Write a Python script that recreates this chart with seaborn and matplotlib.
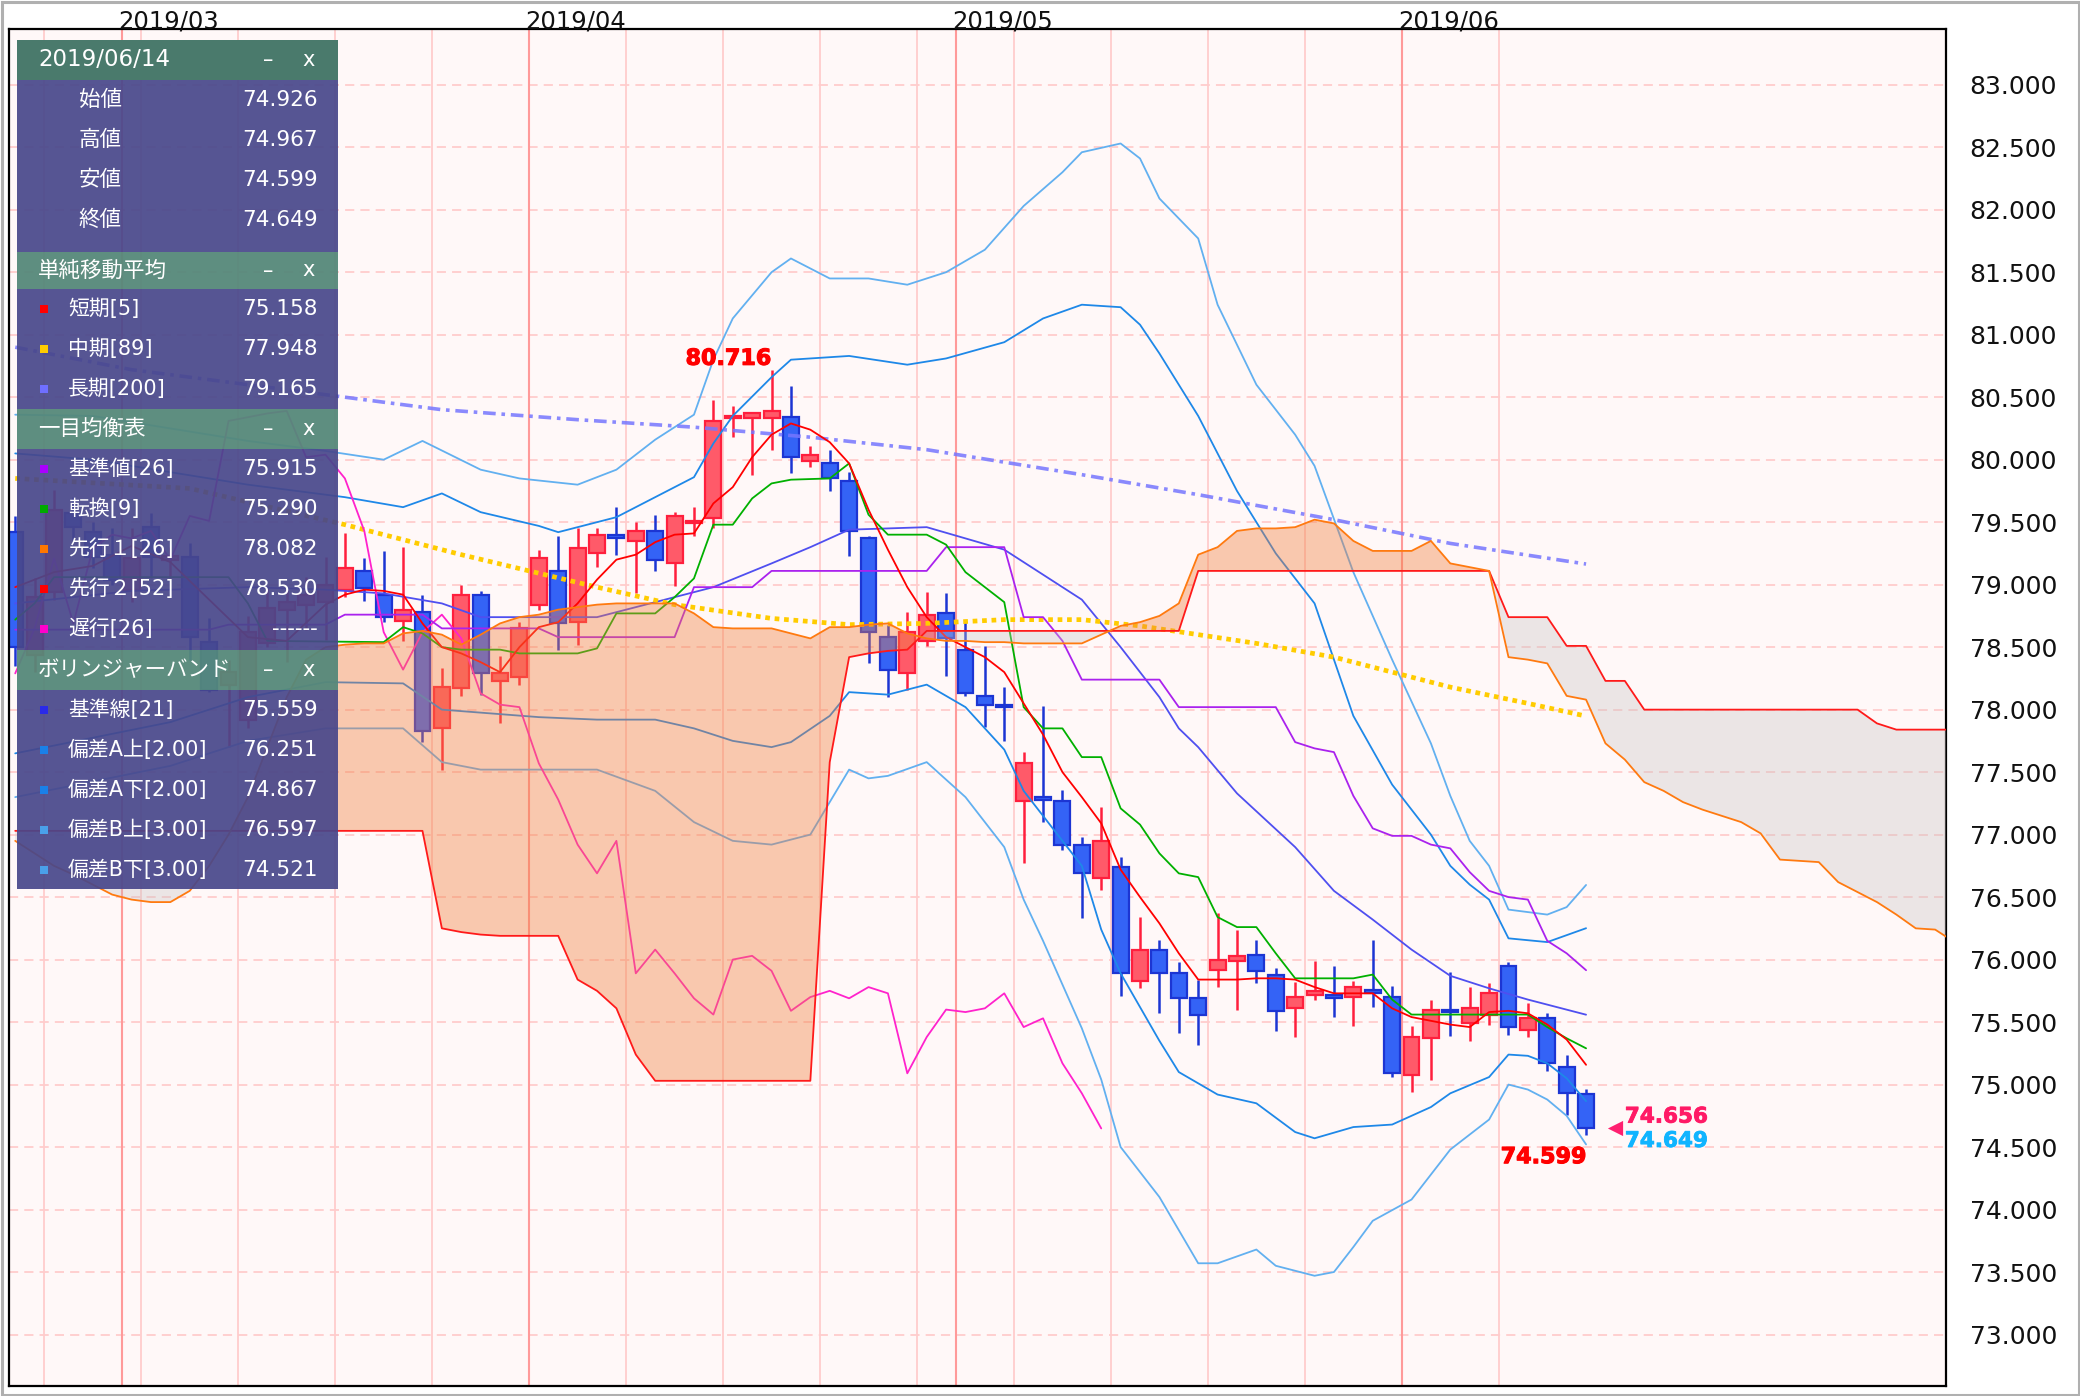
import numpy as np
import pandas as pd
import matplotlib
matplotlib.use("Agg")
import matplotlib.pyplot as plt
import matplotlib.patheffects as pe
import seaborn as sns
from matplotlib.patches import Rectangle
from matplotlib.ticker import FormatStrFormatter, MultipleLocator

# trading days on screen: 21 Feb .. 14 Jun 2019 (index 0 = Mon 25 Feb)
DATES = pd.bdate_range("2019-02-21", "2019-06-14")

OPEN = [79.42, 78.44, 78.94, 79.57, 79.42, 79.24, 78.96, 79.46, 79.20, 79.22, 78.54, 78.20, 77.92, 78.53,
        78.80, 78.84, 78.86, 78.96, 79.11, 78.92, 78.71, 78.78, 77.85, 78.17, 78.92, 78.23, 78.26, 78.84,
        79.11, 78.70, 79.25, 79.40, 79.35, 79.43, 79.17, 79.49, 79.53, 80.33, 80.33, 80.33, 80.34, 79.99,
        79.97, 79.83, 79.37, 78.58, 78.29, 78.55, 78.77, 78.48, 78.11, 78.03, 77.27, 77.29, 77.27, 76.92,
        76.65, 76.74, 75.83, 76.08, 75.89, 75.69, 75.92, 75.99, 76.04, 75.88, 75.61, 75.72, 75.72, 75.70,
        75.76, 75.70, 75.08, 75.37, 75.60, 75.49, 75.56, 75.95, 75.44, 75.53, 75.14, 74.926]
HIGH = [79.55, 79.05, 79.76, 79.70, 79.50, 79.45, 79.45, 79.57, 79.30, 79.33, 78.73, 78.40, 78.75, 78.99,
        78.96, 79.06, 79.22, 79.41, 79.21, 79.27, 79.30, 78.92, 78.33, 79.00, 78.95, 78.43, 78.70, 79.28,
        79.39, 79.45, 79.45, 79.62, 79.50, 79.56, 79.58, 79.62, 80.48, 80.43, 80.38, 80.716, 80.59, 80.11,
        80.08, 79.90, 79.39, 78.68, 78.78, 78.94, 78.93, 78.71, 78.51, 78.18, 77.66, 78.03, 77.36, 76.98,
        77.22, 76.82, 76.34, 76.16, 75.98, 75.84, 76.37, 76.24, 76.16, 75.93, 75.82, 75.99, 75.95, 75.83,
        76.16, 75.79, 75.47, 75.68, 75.90, 75.78, 75.81, 75.98, 75.65, 75.57, 75.24, 74.967]
LOW = [78.35, 78.30, 78.88, 79.36, 79.13, 79.00, 78.86, 79.05, 79.05, 78.40, 78.14, 77.70, 77.85, 78.50,
       78.38, 78.64, 78.56, 78.90, 78.87, 78.70, 78.55, 77.74, 77.52, 78.11, 78.12, 77.89, 78.20, 78.80,
       78.48, 78.52, 79.14, 79.24, 78.93, 79.11, 78.99, 79.39, 79.45, 80.18, 79.88, 80.08, 79.89, 79.94,
       79.75, 79.23, 78.37, 78.10, 78.16, 78.51, 78.27, 78.11, 77.86, 77.75, 76.77, 77.10, 76.88, 76.33,
       76.56, 75.71, 75.77, 75.57, 75.41, 75.32, 75.78, 75.60, 75.81, 75.43, 75.38, 75.68, 75.54, 75.47,
       75.62, 75.06, 74.94, 75.04, 75.39, 75.35, 75.48, 75.40, 75.38, 75.11, 74.76, 74.599]
CLOSE = [78.50, 78.90, 79.60, 79.46, 79.22, 79.04, 79.21, 79.22, 79.23, 78.58, 78.16, 78.30, 78.62, 78.81,
         78.86, 78.92, 79.00, 79.13, 78.97, 78.74, 78.80, 77.83, 78.18, 78.92, 78.29, 78.29, 78.65, 79.21,
         78.69, 79.29, 79.40, 79.37, 79.43, 79.20, 79.55, 79.51, 80.31, 80.34, 80.37, 80.39, 80.02, 80.04,
         79.85, 79.43, 78.62, 78.32, 78.62, 78.76, 78.57, 78.13, 78.04, 78.02, 77.57, 77.28, 76.92, 76.69,
         76.95, 75.89, 76.08, 75.89, 75.69, 75.56, 76.00, 76.03, 75.91, 75.59, 75.70, 75.75, 75.69, 75.78,
         75.73, 75.09, 75.38, 75.60, 75.58, 75.61, 75.73, 75.46, 75.53, 75.17, 74.93, 74.649]

# indicator lines at day-index knots
SMA5_X = [-2, 0, 2, 4, 6, 8, 10, 12, 14, 15, 16, 17, 18, 19, 20, 21, 22, 23, 24, 25, 26, 27, 28, 29, 30, 31,
          32, 33, 34, 35, 36, 37, 38, 39, 40, 41, 42, 43, 44, 45, 46, 47, 48, 49, 50, 51, 52, 53, 54, 55, 56,
          57, 58, 59, 60, 61, 62, 63, 64, 65, 66, 67, 68, 69, 70, 71, 72, 73, 74, 75, 76, 77, 78, 79]
SMA5_Y = [78.98, 79.10, 79.15, 79.31, 79.18, 78.88, 78.58, 78.55, 78.84, 78.92, 78.96, 78.95, 78.92, 78.69,
          78.50, 78.45, 78.38, 78.30, 78.50, 78.66, 78.70, 78.85, 79.04, 79.20, 79.24, 79.34, 79.40, 79.41,
          79.65, 79.78, 80.02, 80.20, 80.29, 80.24, 80.14, 79.97, 79.60, 79.28, 78.98, 78.74, 78.58, 78.50,
          78.42, 78.30, 78.05, 77.80, 77.50, 77.30, 77.09, 76.72, 76.50, 76.29, 76.05, 75.84, 75.84, 75.84,
          75.85, 75.85, 75.84, 75.78, 75.73, 75.73, 75.73, 75.61, 75.54, 75.51, 75.48, 75.46, 75.58, 75.59,
          75.57, 75.48, 75.36, 75.158]
SMA89_X = [-2, 7, 15, 21, 28, 32, 37, 41, 45, 49, 53, 56, 59, 62, 66, 69, 72, 76, 79]
SMA89_Y = [79.85, 79.77, 79.48, 79.24, 78.98, 78.84, 78.73, 78.68, 78.69, 78.72, 78.72, 78.67, 78.60, 78.53,
           78.42, 78.30, 78.18, 78.05, 77.948]
SMA200_X = [-2, 4, 9, 14, 20, 27, 33, 39, 45, 53, 59, 66, 72, 79]
SMA200_Y = [80.90, 80.72, 80.62, 80.52, 80.40, 80.32, 80.26, 80.18, 80.08, 79.88, 79.72, 79.52, 79.33, 79.165]

KIJUN_X = [-2, 8, 9, 14, 15, 19, 20, 25, 26, 32, 33, 36, 37, 45, 46, 49, 50, 51, 52, 53, 57, 58, 63, 64, 65,
           66, 67, 68, 69, 70, 71, 72, 73, 74, 75, 76, 77, 78, 79]
KIJUN_Y = [78.64, 78.64, 78.68, 78.68, 78.76, 78.76, 78.65, 78.65, 78.58, 78.58, 78.98, 78.98, 79.11, 79.11,
           79.30, 79.30, 78.74, 78.74, 78.55, 78.24, 78.24, 78.02, 78.02, 77.74, 77.69, 77.66, 77.31, 77.05,
           76.99, 76.99, 76.92, 76.89, 76.70, 76.55, 76.50, 76.48, 76.15, 76.05, 75.915]
TENKAN_X = [-2, -1, 0, 9, 10, 11, 17, 18, 19, 20, 21, 23, 24, 27, 28, 29, 31, 32, 33, 34, 35, 36, 37, 38, 40,
            41, 42, 43, 45, 46, 47, 48, 49, 50, 51, 52, 53, 54, 55, 56, 57, 58, 59, 60, 61, 62, 63, 64, 67,
            68, 69, 70, 76, 77, 78, 79]
TENKAN_Y = [78.72, 78.85, 79.06, 79.06, 78.85, 78.55, 78.54, 78.66, 78.61, 78.50, 78.48, 78.48, 78.45, 78.45,
            78.49, 78.77, 78.77, 78.90, 79.05, 79.48, 79.48, 79.69, 79.81, 79.84, 79.85, 79.97, 79.56, 79.40,
            79.40, 79.32, 79.10, 78.98, 78.86, 78.02, 77.85, 77.85, 77.62, 77.62, 77.21, 77.08, 76.85, 76.69,
            76.66, 76.34, 76.26, 76.26, 76.05, 75.85, 75.85, 75.88, 75.68, 75.56, 75.56, 75.46, 75.37, 75.29]
CHIKOU_Y = [78.29, 78.65, 79.21, 78.69, 79.29, 79.40, 79.37, 79.43, 79.20, 79.55, 79.51, 80.31, 80.34, 80.37,
            80.39, 80.02, 80.04, 79.85, 79.43, 78.62, 78.32, 78.62, 78.76, 78.57, 78.13, 78.04, 78.02, 77.57,
            77.28, 76.92, 76.69, 76.95, 75.89, 76.08, 75.89, 75.69, 75.56, 76.00, 76.03, 75.91, 75.59, 75.70,
            75.75, 75.69, 75.78, 75.73, 75.09, 75.38, 75.60, 75.58, 75.61, 75.73, 75.46, 75.53, 75.17, 74.93,
            74.649]

# leading spans, one value per day from index -2 to 98
SPAN_A = [76.95, 76.85, 76.75, 76.68, 76.60, 76.52, 76.48, 76.46, 76.46, 76.55, 76.75, 77.00, 77.30, 77.70,
          78.10, 78.40, 78.50, 78.52, 78.53, 78.53, 78.61, 78.63, 78.60, 78.52, 78.60, 78.69, 78.74, 78.76,
          78.80, 78.82, 78.84, 78.85, 78.85, 78.85, 78.85, 78.77, 78.66, 78.65, 78.65, 78.65, 78.61, 78.57,
          78.66, 78.66, 78.68, 78.69, 78.61, 78.57, 78.55, 78.55, 78.54, 78.54, 78.53, 78.53, 78.53, 78.53,
          78.60, 78.67, 78.70, 78.75, 78.85, 79.24, 79.30, 79.43, 79.45, 79.45, 79.46, 79.52, 79.49, 79.35,
          79.27, 79.27, 79.27, 79.35, 79.17, 79.14, 79.11, 78.42, 78.40, 78.37, 78.11, 78.08, 77.73, 77.60,
          77.42, 77.35, 77.26, 77.20, 77.15, 77.10, 77.01, 76.80, 76.79, 76.78, 76.62, 76.54, 76.46, 76.36,
          76.25, 76.24, 76.14]
SPAN_B = [77.03] * 22 + [76.25, 76.22, 76.20, 76.19, 76.19, 76.19, 76.19, 75.84, 75.75, 75.61, 75.24] + \
         [75.03] * 9 + [77.58, 78.42, 78.45, 78.47, 78.48] + [78.63] * 14 + [79.11] * 16 + \
         [78.74, 78.74, 78.74, 78.51, 78.51, 78.23, 78.23] + [78.00] * 12 + [77.89, 77.84, 77.84, 77.84, 77.84]

BB_MID_X = [-2, 4, 10, 14, 17, 20, 22, 28, 31, 34, 37, 39, 41, 45, 49, 53, 55, 57, 58, 59, 61, 64, 66, 68,
            70, 72, 74, 76, 79]
BB_MID_Y = [78.85, 78.95, 78.98, 78.96, 78.93, 78.85, 78.74, 78.74, 78.86, 78.98, 79.17, 79.30, 79.44, 79.46,
            79.28, 78.88, 78.50, 78.10, 77.85, 77.70, 77.33, 76.90, 76.55, 76.32, 76.08, 75.87, 75.77, 75.68,
            75.559]
BB_A_UP_X = [-2, 2, 6, 10, 14, 15, 18, 20, 22, 25, 26, 29, 31, 33, 34, 35, 37, 38, 41, 44, 46, 49, 51, 53,
             55, 56, 57, 59, 61, 63, 65, 67, 69, 71, 72, 73, 74, 75, 77, 79]
BB_A_UP_Y = [80.05, 80.00, 79.90, 79.80, 79.72, 79.70, 79.62, 79.73, 79.58, 79.47, 79.42, 79.54, 79.70, 79.86,
             80.13, 80.35, 80.66, 80.80, 80.83, 80.76, 80.81, 80.94, 81.13, 81.24, 81.22, 81.08, 80.85, 80.35,
             79.75, 79.25, 78.85, 77.95, 77.40, 77.00, 76.75, 76.60, 76.48, 76.17, 76.14, 76.251]
BB_A_DN_X = [-2, 6, 10, 14, 18, 20, 25, 28, 31, 33, 35, 37, 38, 40, 41, 43, 45, 47, 49, 50, 51, 53, 54, 55,
             57, 58, 60, 62, 64, 65, 67, 69, 71, 72, 74, 75, 76, 77, 78, 79]
BB_A_DN_Y = [77.65, 77.90, 78.10, 78.22, 78.21, 78.00, 77.94, 77.92, 77.92, 77.85, 77.75, 77.70, 77.74, 77.95,
             78.14, 78.12, 78.20, 78.02, 77.68, 77.35, 77.15, 76.75, 76.24, 75.89, 75.35, 75.10, 74.92, 74.85,
             74.62, 74.57, 74.66, 74.68, 74.82, 74.93, 75.06, 75.24, 75.23, 75.17, 75.05, 74.867]
BB_B_UP_X = [-2, 2, 6, 10, 14, 17, 19, 22, 24, 27, 29, 31, 33, 34, 35, 37, 38, 40, 42, 44, 46, 48, 50, 52,
             53, 55, 56, 57, 59, 60, 62, 63, 64, 65, 67, 69, 71, 72, 73, 74, 75, 77, 78, 79]
BB_B_UP_Y = [80.36, 80.35, 80.25, 80.15, 80.07, 80.00, 80.15, 79.92, 79.85, 79.80, 79.92, 80.16, 80.36, 80.80,
             81.13, 81.50, 81.61, 81.45, 81.45, 81.40, 81.50, 81.68, 82.03, 82.30, 82.46, 82.53, 82.41, 82.09,
             81.77, 81.24, 80.60, 80.40, 80.20, 79.95, 79.10, 78.40, 77.73, 77.31, 76.95, 76.75, 76.40, 76.36,
             76.42, 76.597]
BB_B_DN_X = [-2, 6, 10, 14, 18, 20, 22, 28, 31, 33, 35, 37, 39, 41, 42, 43, 45, 47, 49, 50, 51, 52, 53, 54,
             55, 57, 59, 60, 62, 63, 65, 66, 67, 68, 70, 72, 74, 75, 76, 77, 78, 79]
BB_B_DN_Y = [77.30, 77.55, 77.75, 77.85, 77.85, 77.58, 77.52, 77.52, 77.35, 77.10, 76.95, 76.92, 77.00, 77.52,
             77.45, 77.47, 77.58, 77.30, 76.90, 76.48, 76.15, 75.80, 75.45, 75.04, 74.50, 74.10, 73.57, 73.57,
             73.68, 73.55, 73.47, 73.50, 73.70, 73.91, 74.08, 74.48, 74.72, 75.00, 74.96, 74.88, 74.75, 74.521]

MONTH_FMT = "%Y/%m"
LAST_BID = 74.656
LAST_ASK = 74.649

# info panel text
PANEL_DATE = "2019/06/14"
OHLC_NAMES = ["始値", "高値", "安値", "終値"]
OHLC_VALUES = ["74.926", "74.967", "74.599", "74.649"]
SMA_NAMES = ["短期[5]", "中期[89]", "長期[200]"]
SMA_VALUES = ["75.158", "77.948", "79.165"]
SMA_COLORS = ["#ff0000", "#ffcc00", "#6f6fff"]
ICHI_NAMES = ["基準値[26]", "転換[9]", "先行１[26]", "先行２[52]", "遅行[26]"]
ICHI_VALUES = ["75.915", "75.290", "78.082", "78.530", "------"]
ICHI_COLORS = ["#aa00ff", "#00aa00", "#ff7700", "#ff0000", "#ff00cc"]
BB_NAMES = ["基準線[21]", "偏差A上[2.00]", "偏差A下[2.00]", "偏差B上[3.00]", "偏差B下[3.00]"]
BB_VALUES = ["75.559", "76.251", "74.867", "76.597", "74.521"]
BB_COLORS = ["#2a2ae8", "#1a80e8", "#1a80e8", "#4aa0ea", "#4aa0ea"]
SECTION_TITLES = ["単純移動平均", "一目均衡表", "ボリンジャーバンド"]


sns.set_theme(style="white")
plt.rcParams["font.family"] = ["DejaVu Sans", "Noto Sans CJK JP"]

fig = plt.figure(figsize=(20.8, 13.96), dpi=100)
ax = fig.add_axes([0.00433, 0.00716, 0.93125, 0.97206])
ax.set_facecolor("#fff8f8")

pos = np.arange(len(DATES)) - 2
span_x = np.arange(len(SPAN_A)) - 2
chikou_x = np.arange(len(CHIKOU_Y)) - 2
o, h, l, c = map(np.array, (OPEN, HIGH, LOW, CLOSE))
up = c >= o

# grid
for v in np.arange(73.0, 83.01, 0.5):
    ax.axhline(v, color="#ffc4c4", lw=1.1, ls=(0, (6, 4)), zorder=0.5)
week_starts = pos[DATES.weekday == 0] - 0.5
month_idx = [k for k in range(1, len(DATES)) if DATES[k].month != DATES[k - 1].month]
for x in week_starts:
    ax.axvline(x, color="#ffcccc", lw=1.3, zorder=0.6)
for k in month_idx:
    ax.axvline(pos[k] - 0.5, color="#ff9a9a", lw=1.5, zorder=0.7)
    ax.text(pos[k] - 0.7, 1.0005, DATES[k].strftime(MONTH_FMT), transform=ax.get_xaxis_transform(),
            ha="left", va="baseline", fontsize=17.5, color="#111111")

# candles
ax.vlines(pos[up], l[up], h[up], color="#ff1f3d", lw=1.8, zorder=2)
ax.vlines(pos[~up], l[~up], h[~up], color="#1c35d3", lw=1.8, zorder=2)
body = np.maximum(np.abs(c - o), 0.02)
ax.bar(pos[up], body[up], bottom=np.minimum(o, c)[up], width=0.82, color="#ff5a69",
       edgecolor="#ff1f3d", linewidth=1.6, zorder=2.2)
ax.bar(pos[~up], body[~up], bottom=np.minimum(o, c)[~up], width=0.82, color="#3463f6",
       edgecolor="#1c35d3", linewidth=1.6, zorder=2.2)


def line(xs, ys, color, lw=1.3, z=3, **kw):
    sns.lineplot(x=list(xs), y=list(ys), ax=ax, color=color, linewidth=lw, zorder=z,
                 sort=False, estimator=None, legend=False, **kw)


line(BB_B_UP_X, BB_B_UP_Y, "#62b0f0")
line(BB_B_DN_X, BB_B_DN_Y, "#62b0f0")
line(BB_A_UP_X, BB_A_UP_Y, "#1e88e8")
line(BB_A_DN_X, BB_A_DN_Y, "#1e88e8")
line(BB_MID_X, BB_MID_Y, "#4f4ff0")
line(SMA200_X, SMA200_Y, "#7676ff", lw=2.6, alpha=0.85, linestyle=(0, (3.5, 1.6, 1, 1.6)))
line(SMA89_X, SMA89_Y, "#ffcc00", lw=3.4, linestyle=(0, (1, 1)))
line(chikou_x, CHIKOU_Y, "#ff22cc")
line(KIJUN_X, KIJUN_Y, "#aa22ee")
line(TENKAN_X, TENKAN_Y, "#00b000")
line(SMA5_X, SMA5_Y, "#ff0000")

# kumo
a, b = np.array(SPAN_A), np.array(SPAN_B)
ax.fill_between(span_x, a, b, where=a >= b, interpolate=True, color="#f08040", alpha=0.4, lw=0, zorder=4)
ax.fill_between(span_x, a, b, where=a < b, interpolate=True, color="#c8c2c2", alpha=0.35, lw=0, zorder=4)
line(span_x, SPAN_B, "#ff1a1a", z=4.5)
line(span_x, SPAN_A, "#ff7a10", z=4.6)

# high / low / last price marks
bold = dict(fontweight="bold", zorder=6)
ih, il = int(np.argmax(h)), int(np.argmin(l))
ax.annotate(f"{h[ih]:.3f}", (pos[ih], h[ih]), xytext=(0, 1), textcoords="offset points",
            ha="right", va="bottom", fontsize=16, color="#ff0000",
            path_effects=[pe.withStroke(linewidth=0.8, foreground="#ff0000")], **bold)
ax.annotate(f"{l[il]:.3f}", (pos[il], l[il]), xytext=(0, -9), textcoords="offset points",
            ha="right", va="top", fontsize=16, color="#ff0000",
            path_effects=[pe.withStroke(linewidth=0.8, foreground="#ff0000")], **bold)
ax.scatter([pos[-1] + 1.5], [c[-1]], marker="<", s=120, color="#ff2070", zorder=6, linewidths=0)
ax.annotate(f"{LAST_BID:.3f}", (pos[-1] + 2.0, c[-1]), xytext=(0, 8.5), textcoords="offset points",
            ha="left", va="center", fontsize=15.5, color="#ff1a66",
            path_effects=[pe.withStroke(linewidth=0.6, foreground="#ff1a66")], **bold)
ax.annotate(f"{LAST_ASK:.3f}", (pos[-1] + 2.0, c[-1]), xytext=(0, -9), textcoords="offset points",
            ha="left", va="center", fontsize=15.5, color="#10b4ff",
            path_effects=[pe.withStroke(linewidth=0.6, foreground="#10b4ff")], **bold)

ax.set_xlim(-2.32, 97.56)
ax.set_ylim(72.588, 83.446)
ax.yaxis.tick_right()
ax.yaxis.set_major_locator(MultipleLocator(0.5))
ax.yaxis.set_major_formatter(FormatStrFormatter("%.3f"))
ax.tick_params(axis="y", length=0, pad=17, labelsize=18, labelcolor="#111111")
ax.set_xticks([])
ax.set_xlabel("")
ax.set_ylabel("")
for s in ax.spines.values():
    s.set_visible(True)
    s.set_color("#000000")
    s.set_linewidth(1.6)

# info panel, drawn in pixel space
pax = fig.add_axes([0, 0, 1, 1], zorder=10)
pax.set_xlim(0, 2080)
pax.set_ylim(1396, 0)
pax.axis("off")
pax.patch.set_alpha(0)

PX0, PX1 = 17, 338


def header(y0, y1, title, color, alpha, size=15.5):
    pax.add_patch(Rectangle((PX0, y0), PX1 - PX0, y1 - y0, color=color, alpha=alpha, lw=0))
    ym = (y0 + y1) / 2
    pax.text(38, ym, title, color="white", fontsize=size, va="center", ha="left")
    pax.text(268, ym, "–", color="white", fontsize=15, va="center", ha="center")
    pax.text(309, ym, "x", color="white", fontsize=15, va="center", ha="center")


def body_block(y0, y1):
    pax.add_patch(Rectangle((PX0, y0), PX1 - PX0, y1 - y0, color="#48478b", alpha=0.92, lw=0))


header(40, 80, PANEL_DATE, "#4a7a6c", 1.0, size=16.5)
body_block(80, 252)
for k, (name, val) in enumerate(zip(OHLC_NAMES, OHLC_VALUES)):
    y = 100 + 40 * k
    pax.text(100, y, name, color="white", fontsize=15.5, ha="center", va="center")
    pax.text(318, y, val, color="white", fontsize=15.5, ha="right", va="center")

blocks = [
    (252, 289, 289, 409, SMA_NAMES, SMA_VALUES, SMA_COLORS),
    (409, 449, 449, 650, ICHI_NAMES, ICHI_VALUES, ICHI_COLORS),
    (650, 690, 690, 889, BB_NAMES, BB_VALUES, BB_COLORS),
]
for title, (h0, h1, b0, b1, names, vals, cols) in zip(SECTION_TITLES, blocks):
    header(h0, h1, title, "#55887a", 0.95)
    body_block(b0, b1)
    for k, (name, val, col) in enumerate(zip(names, vals, cols)):
        y = b0 + 20 + 40 * k
        pax.add_patch(Rectangle((40, y - 4), 8, 8, color=col, lw=0))
        pax.text(68, y, name, color="white", fontsize=15, ha="left", va="center")
        pax.text(318, y, val, color="white", fontsize=15.5, ha="right", va="center")

# outer frame
pax.add_patch(Rectangle((1.5, 1.5), 2077, 1393, fill=False, edgecolor="#b0b0b0", lw=2.2))

fig.savefig("out.png", dpi=100, facecolor="white")
